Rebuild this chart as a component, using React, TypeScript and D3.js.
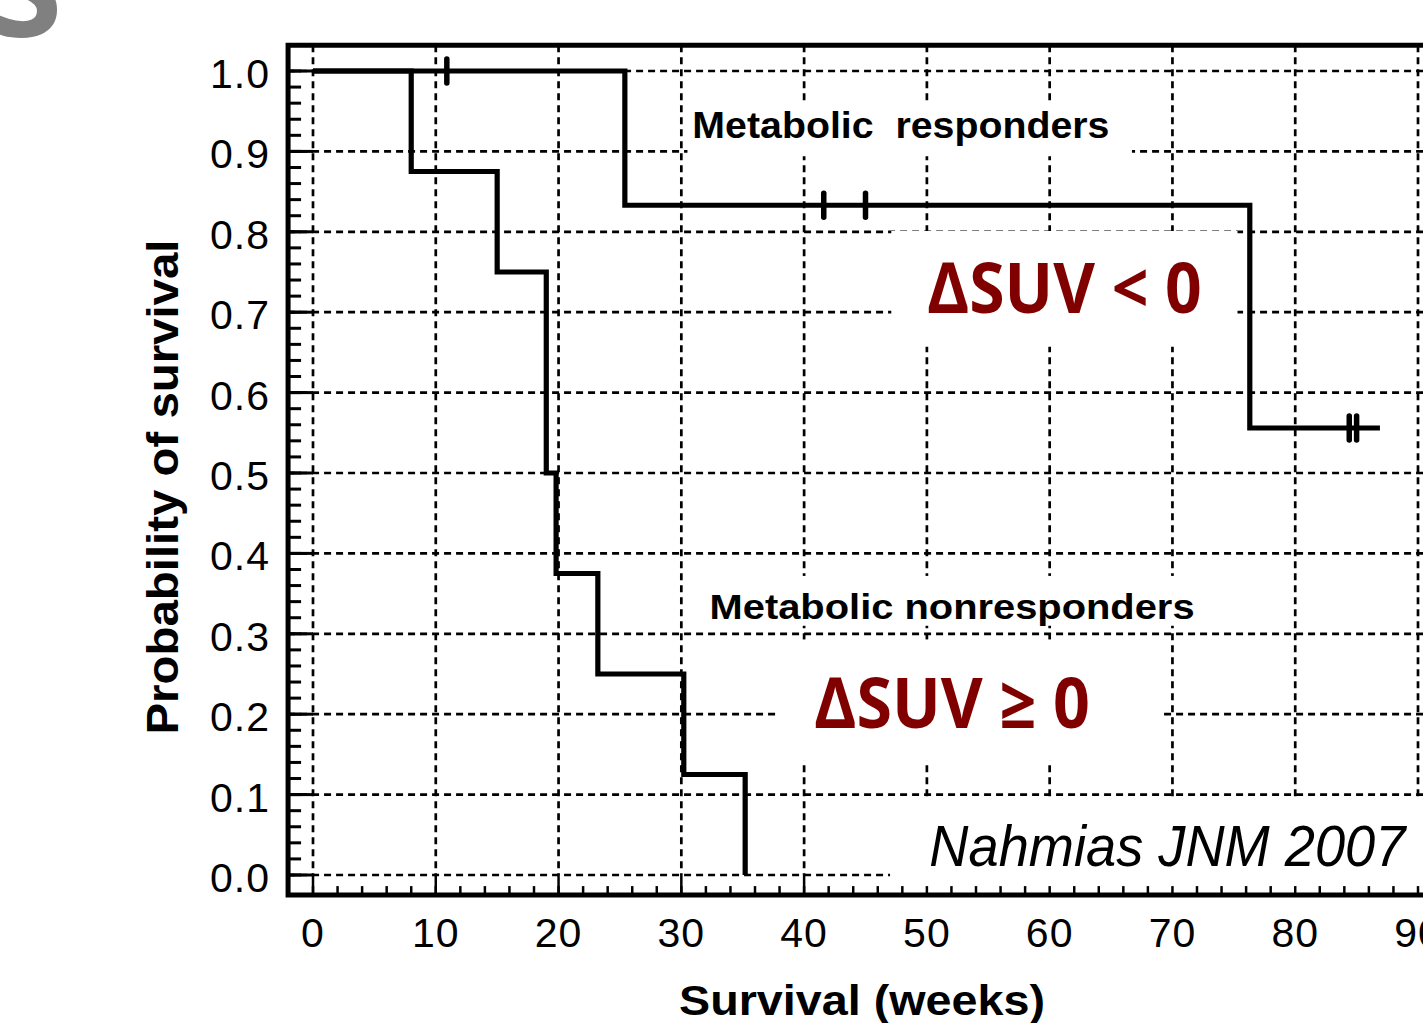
import { useRef, useEffect } from 'react'
import * as d3 from 'd3'

const WIDTH = 1423
const HEIGHT = 1023

// Kaplan-Meier steps: time (weeks) and survival after the step
const responderTimes = [0, 25.4, 76.3, 86.9]
const responderSurvival = [1.0, 0.833, 0.556, 0.556]
const responderCensored = [10.9, 41.6, 45.0, 84.4, 85.0]

const nonresponderTimes = [0, 8.0, 15.0, 19.0, 19.8, 23.2, 30.2, 35.2]
const nonresponderSurvival = [1.0, 0.875, 0.75, 0.5, 0.375, 0.25, 0.125, 0.0]

const xTicks = [0, 10, 20, 30, 40, 50, 60, 70, 80, 90]
const yTicks = [0, 0.1, 0.2, 0.3, 0.4, 0.5, 0.6, 0.7, 0.8, 0.9, 1.0]
const xMinorTicks = d3.range(0, 93, 2)
const yMinorTicks = d3.range(0, 51).map(i => i * 0.02)

const xTitle = 'Survival (weeks)'
const yTitle = 'Probability of survival'

function survivalAt(times: number[], surv: number[], t: number) {
  let s = surv[0]
  times.forEach((ti, i) => { if (ti <= t) s = surv[i] })
  return s
}

function KaplanMeierChart() {
  const svgRef = useRef<SVGSVGElement>(null)

  useEffect(() => {
    if (!svgRef.current) return
    const svg = d3.select(svgRef.current)
    svg.selectAll('*').remove()

    const x = d3.scaleLinear().domain([0, 90]).range([313, 1418])
    const y = d3.scaleLinear().domain([0, 1]).range([875, 71])

    const left = x(-2.03)
    const top = y(1.032)
    const bottom = y(-0.025)
    const right = WIDTH + 10
    const sans = '"Liberation Sans", Arial, sans-serif'

    // grey fragment of a slide title above the figure
    svg.append('text')
      .attr('x', -12)
      .attr('y', 37)
      .attr('font-family', '"Open Sans", sans-serif')
      .attr('font-weight', 700)
      .attr('font-size', 135)
      .attr('fill', '#808080')
      .text('S')

    // dashed grid
    const grid = svg.append('g')
      .attr('stroke', '#000')
      .attr('stroke-width', 2.7)
      .attr('stroke-dasharray', '7,5')
    grid.selectAll('line.v')
      .data(xTicks)
      .join('line')
      .attr('class', 'v')
      .attr('x1', d => x(d)).attr('x2', d => x(d))
      .attr('y1', top).attr('y2', y(0))
    grid.selectAll('line.h')
      .data(yTicks)
      .join('line')
      .attr('class', 'h')
      .attr('x1', left).attr('x2', right)
      .attr('y1', d => y(d)).attr('y2', d => y(d))

    // white text-box backgrounds covering the grid
    const boxes = [
      [30.5, 66.7, 0.961, 0.894],
      [47.1, 75.3, 0.801, 0.657],
      [31.8, 71.5, 0.372, 0.31],
      [37.9, 69.1, 0.293, 0.142],
      [47.0, 93.0, 0.097, -0.014],
    ]
    svg.append('g')
      .selectAll('rect')
      .data(boxes)
      .join('rect')
      .attr('x', d => x(d[0]))
      .attr('y', d => y(d[2]))
      .attr('width', d => x(d[1]) - x(d[0]))
      .attr('height', d => y(d[3]) - y(d[2]))
      .attr('fill', '#fff')

    // axis ticks
    const ticks = svg.append('g').attr('stroke', '#000')
    ticks.selectAll('line.ym')
      .data(yMinorTicks)
      .join('line')
      .attr('class', 'ym')
      .attr('x1', left).attr('x2', left + 13)
      .attr('y1', d => y(d)).attr('y2', d => y(d))
      .attr('stroke-width', 3)
    ticks.selectAll('line.yM')
      .data(yTicks)
      .join('line')
      .attr('class', 'yM')
      .attr('x1', left).attr('x2', x(0))
      .attr('y1', d => y(d)).attr('y2', d => y(d))
      .attr('stroke-width', 3)
    ticks.selectAll('line.xm')
      .data(xMinorTicks)
      .join('line')
      .attr('class', 'xm')
      .attr('x1', d => x(d)).attr('x2', d => x(d))
      .attr('y1', bottom).attr('y2', bottom - 9)
      .attr('stroke-width', 2.5)
    ticks.selectAll('line.xM')
      .data(xTicks.filter(d => d < 47))
      .join('line')
      .attr('class', 'xM')
      .attr('x1', d => x(d)).attr('x2', d => x(d))
      .attr('y1', bottom).attr('y2', y(0))
      .attr('stroke-width', 2.5)

    // frame
    svg.append('path')
      .attr('d', `M${right},${top}H${left}V${bottom}H${right}`)
      .attr('fill', 'none')
      .attr('stroke', '#000')
      .attr('stroke-width', 5)

    // tick labels
    svg.append('g')
      .selectAll('text')
      .data(yTicks)
      .join('text')
      .attr('x', 270)
      .attr('y', d => y(d) + 17)
      .attr('text-anchor', 'end')
      .attr('font-family', sans)
      .attr('font-size', 41)
      .attr('letter-spacing', 1)
      .text(d => d.toFixed(1))
    svg.append('g')
      .selectAll('text')
      .data(xTicks)
      .join('text')
      .attr('x', d => x(d))
      .attr('y', 947)
      .attr('text-anchor', 'middle')
      .attr('font-family', sans)
      .attr('font-size', 41)
      .attr('letter-spacing', 1)
      .text(d => d)

    // axis titles
    svg.append('text')
      .attr('x', 862)
      .attr('y', 1015)
      .attr('text-anchor', 'middle')
      .attr('font-family', sans)
      .attr('font-weight', 700)
      .attr('font-size', 43)
      .attr('textLength', 366)
      .attr('lengthAdjust', 'spacingAndGlyphs')
      .text(xTitle)
    svg.append('text')
      .attr('transform', 'translate(178,487) rotate(-90)')
      .attr('text-anchor', 'middle')
      .attr('font-family', sans)
      .attr('font-weight', 700)
      .attr('font-size', 45)
      .attr('textLength', 495)
      .attr('lengthAdjust', 'spacingAndGlyphs')
      .text(yTitle)

    // survival curves
    const line = d3.line<[number, number]>()
      .x(d => x(d[0]))
      .y(d => y(d[1]))
      .curve(d3.curveStepAfter)

    const responders = responderTimes.map((t, i) => [t, responderSurvival[i]] as [number, number])
    const nonresponders = nonresponderTimes.map((t, i) => [t, nonresponderSurvival[i]] as [number, number])

    svg.append('path')
      .datum(nonresponders)
      .attr('d', line)
      .attr('fill', 'none')
      .attr('stroke', '#000')
      .attr('stroke-width', 5.2)
    svg.append('path')
      .datum(responders)
      .attr('d', line)
      .attr('fill', 'none')
      .attr('stroke', '#000')
      .attr('stroke-width', 5.2)

    // censor marks
    svg.append('g')
      .selectAll('line')
      .data(responderCensored)
      .join('line')
      .attr('x1', d => x(d)).attr('x2', d => x(d))
      .attr('y1', d => y(survivalAt(responderTimes, responderSurvival, d)) - 12)
      .attr('y2', d => y(survivalAt(responderTimes, responderSurvival, d)) + 12)
      .attr('stroke', '#000')
      .attr('stroke-width', 5.5)
      .attr('stroke-linecap', 'round')

    // annotations
    svg.append('text')
      .attr('x', x(30.9))
      .attr('y', y(0.917))
      .attr('font-family', sans)
      .attr('font-weight', 700)
      .attr('font-size', 37)
      .attr('textLength', 417)
      .attr('lengthAdjust', 'spacingAndGlyphs')
      .attr('xml:space', 'preserve')
      .style('white-space', 'pre')
      .text('Metabolic  responders')
    svg.append('text')
      .attr('x', x(32.3))
      .attr('y', y(0.319))
      .attr('font-family', sans)
      .attr('font-weight', 700)
      .attr('font-size', 35)
      .attr('textLength', 485)
      .attr('lengthAdjust', 'spacingAndGlyphs')
      .text('Metabolic nonresponders')

    svg.append('text')
      .attr('x', x(50.0))
      .attr('y', y(0.699))
      .attr('font-family', '"Open Sans", sans-serif')
      .attr('font-weight', 700)
      .attr('font-size', 70)
      .attr('fill', '#800000')
      .attr('textLength', 275)
      .attr('lengthAdjust', 'spacingAndGlyphs')
      .text('\u0394SUV < 0')
    svg.append('text')
      .attr('x', x(40.8))
      .attr('y', y(0.183))
      .attr('font-family', '"Open Sans", sans-serif')
      .attr('font-weight', 700)
      .attr('font-size', 70)
      .attr('fill', '#800000')
      .attr('textLength', 276)
      .attr('lengthAdjust', 'spacingAndGlyphs')
      .text('\u0394SUV \u2265 0')

    svg.append('text')
      .attr('x', x(50.2))
      .attr('y', y(0.011))
      .attr('font-family', sans)
      .attr('font-style', 'italic')
      .attr('font-size', 57)
      .attr('textLength', 476)
      .attr('lengthAdjust', 'spacingAndGlyphs')
      .text('Nahmias JNM 2007')
  }, [])

  return (
    <svg
      ref={svgRef}
      width={WIDTH}
      height={HEIGHT}
      style={{ position: 'absolute', left: 0, top: 0, background: '#fff' }}
    />
  )
}

export default function App() {
  return <KaplanMeierChart />
}
